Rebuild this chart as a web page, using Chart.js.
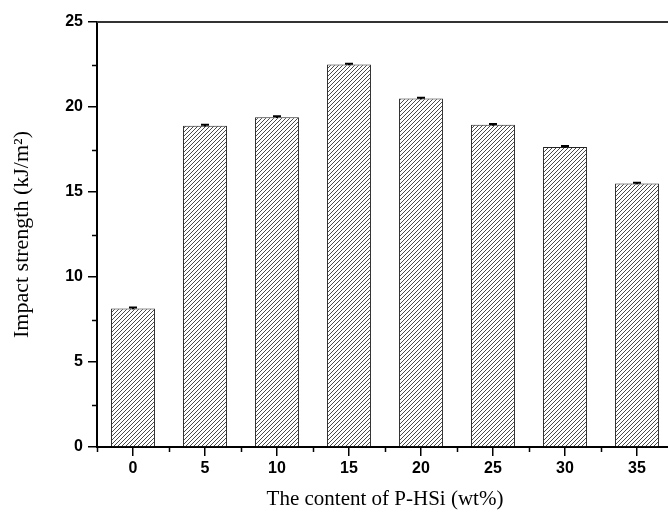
<!DOCTYPE html>
<html>
<head>
<meta charset="utf-8">
<script src="https://cdn.jsdelivr.net/npm/chart.js@4/dist/chart.umd.min.js"></script>
<style>
html,body{margin:0;padding:0;overflow:hidden;background:#fff;}
#c{display:block;}
</style>
</head>
<body>
<canvas id="c" width="700" height="512"></canvas>
<script>
const categories = ['0','5','10','15','20','25','30','35'];
const impactStrength = [8.15, 18.9, 19.4, 22.5, 20.5, 18.95, 17.65, 15.5];
const errorValues = [0.05, 0.05, 0.05, 0.05, 0.05, 0.05, 0.05, 0.05];
const yTicks = [0, 5, 10, 15, 20, 25];

function hatch() {
  const s = 4;
  const p = document.createElement('canvas');
  p.width = s; p.height = s;
  const g = p.getContext('2d');
  g.fillStyle = '#fff';
  g.fillRect(0,0,s,s);
  g.strokeStyle = '#4a4a4a';
  g.lineWidth = 1;
  g.beginPath();
  g.moveTo(-1, s+1); g.lineTo(s+1, -1);
  g.moveTo(-1, 1); g.lineTo(1, -1);
  g.moveTo(s-1, s+1); g.lineTo(s+1, s-1);
  g.stroke();
  return document.getElementById('c').getContext('2d').createPattern(p, 'repeat');
}

const decor = {
  id: 'decor',
  afterDraw(chart) {
    const ctx = chart.ctx;
    const a = chart.chartArea;
    const x = chart.scales.x, y = chart.scales.y;
    ctx.save();
    ctx.strokeStyle = '#333';
    ctx.lineWidth = 2;
    ctx.beginPath();
    ctx.moveTo(a.left, a.top); ctx.lineTo(a.right, a.top);
    ctx.moveTo(a.right, a.top); ctx.lineTo(a.right, a.bottom);
    ctx.stroke();
    ctx.strokeStyle = '#000';
    ctx.lineWidth = 1.5;
    ctx.beginPath();
    for (let i = 0; i < yTicks.length - 1; i++) {
      const v = (yTicks[i] + yTicks[i+1]) / 2;
      const py = Math.round(y.getPixelForValue(v)) + 0.5;
      ctx.moveTo(a.left - 5, py); ctx.lineTo(a.left, py);
    }
    for (let i = 0; i <= categories.length; i++) {
      const px = i === 0 ? a.left : (i === categories.length ? a.right :
        (x.getPixelForValue(i - 1) + x.getPixelForValue(i)) / 2);
      ctx.moveTo(Math.round(px) + 0.5, a.bottom); ctx.lineTo(Math.round(px) + 0.5, a.bottom + 5);
    }
    ctx.stroke();
    ctx.lineWidth = 2;
    ctx.beginPath();
    impactStrength.forEach((v, i) => {
      const px = x.getPixelForValue(i);
      const top = y.getPixelForValue(v + errorValues[i]);
      const bot = y.getPixelForValue(v - errorValues[i]);
      ctx.moveTo(px, top); ctx.lineTo(px, bot);
      ctx.moveTo(px - 4, top); ctx.lineTo(px + 4, top);
    });
    ctx.stroke();
    ctx.restore();
  }
};

new Chart(document.getElementById('c'), {
  type: 'bar',
  data: {
    labels: categories,
    datasets: [{
      data: impactStrength,
      backgroundColor: hatch(),
      borderColor: '#222',
      borderWidth: 1,
      categoryPercentage: 1,
      barPercentage: 0.61
    }]
  },
  options: {
    responsive: false,
    animation: false,
    devicePixelRatio: 1,
    layout: { padding: { top: 22, right: 27, left: 0, bottom: 0 } },
    plugins: { legend: { display: false }, tooltip: { enabled: false } },
    scales: {
      x: {
        afterFit(s) { s.height = 65; },
        grid: { display: true, offset: false, drawOnChartArea: false, drawTicks: true, tickLength: 9, color: '#000', lineWidth: 1.5 },
        border: { display: true, color: '#000', width: 2 },
        ticks: { color: '#000', padding: 3, font: { family: 'Liberation Sans, Arial', size: 16, weight: 'bold' } },
        title: { display: true, text: 'The content of P-HSi (wt%)', color: '#000',
          font: { family: 'Liberation Serif, Times New Roman', size: 21 }, padding: { top: 0, bottom: 0 } }
      },
      y: {
        min: 0, max: 25,
        afterFit(s) { s.width = 97; },
        afterBuildTicks(s) { s.ticks = yTicks.map(v => ({ value: v })); },
        grid: { display: true, drawOnChartArea: false, drawTicks: true, tickLength: 9, color: '#000', lineWidth: 1.5 },
        border: { display: true, color: '#000', width: 2 },
        ticks: { color: '#000', padding: 5, font: { family: 'Liberation Sans, Arial', size: 16, weight: 'bold' } },
        title: { display: true, text: 'Impact strength (kJ/m²)', color: '#000',
          font: { family: 'Liberation Serif, Times New Roman', size: 22 }, padding: { top: 9, bottom: 0 } }
      }
    }
  },
  plugins: [decor]
});
</script>
</body>
</html>
